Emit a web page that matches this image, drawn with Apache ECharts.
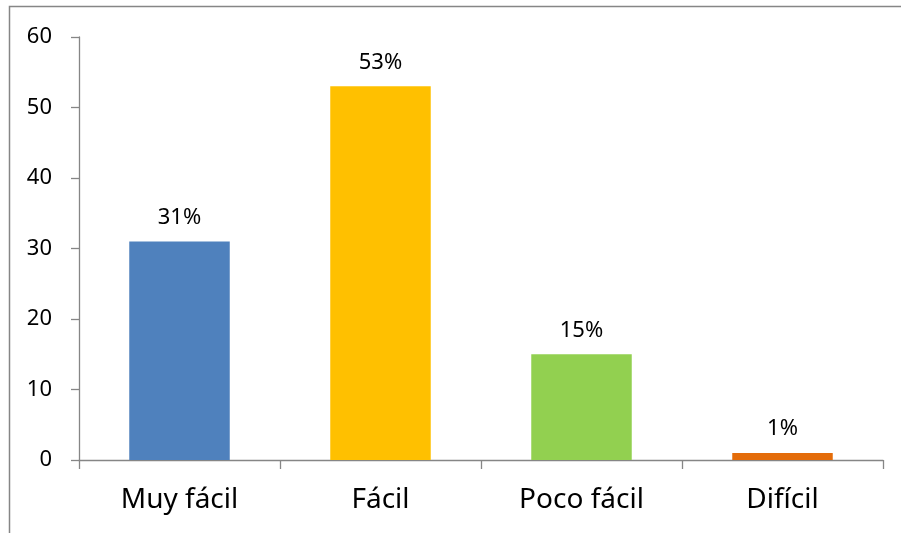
<!DOCTYPE html>
<html>
<head>
<meta charset="utf-8">
<script src="https://cdn.jsdelivr.net/npm/echarts@6/dist/echarts.min.js"></script>
<style>
  html, body { margin: 0; padding: 0; background: #fff; }
  #chart { width: 901px; height: 533px; }
</style>
</head>
<body>
<div id="chart"></div>
<script>
// Survey answers: how easy it was
const categories = ['Muy fácil', 'Fácil', 'Poco fácil', 'Difícil'];
const values = [31, 53, 15, 1];
const valueLabels = ['31%', '53%', '15%', '1%'];
const barColors = ['#4F81BD', '#FFC000', '#92D050', '#E46C0A'];
const yTicks = [0, 10, 20, 30, 40, 50, 60];

const font = '"Noto Sans", "Open Sans", sans-serif';
const axisGray = '#868686';

const chart = echarts.init(document.getElementById('chart'), null, { renderer: 'canvas' });

chart.setOption({
  animation: false,
  backgroundColor: '#fff',
  graphic: [{
    type: 'rect',
    shape: { x: 9.5, y: 6.5, width: 1000, height: 1000 },
    style: { fill: 'none', stroke: axisGray, lineWidth: 1.5 },
    z: 100
  }],
  grid: { left: 79, right: 18, top: 37, bottom: 73, containLabel: false },
  xAxis: {
    type: 'category',
    data: categories,
    axisLine: { show: true, lineStyle: { color: axisGray, width: 1.3 } },
    axisTick: { show: true, alignWithLabel: false, length: 9, lineStyle: { color: axisGray, width: 1.3 } },
    axisLabel: { color: '#000', fontSize: 28, fontFamily: font, margin: 26 },
    splitLine: { show: false }
  },
  yAxis: {
    type: 'value',
    min: yTicks[0],
    max: yTicks[yTicks.length - 1],
    interval: 10,
    axisLine: { show: true, lineStyle: { color: axisGray, width: 1.3 } },
    axisTick: { show: true, length: 8, lineStyle: { color: axisGray, width: 1.3 } },
    axisLabel: { color: '#000', fontSize: 22, fontFamily: font, margin: 27 },
    splitLine: { show: false }
  },
  series: [{
    type: 'bar',
    barWidth: '50%',
    data: values.map((v, i) => ({ value: v, itemStyle: { color: barColors[i] } })),
    label: {
      show: true,
      position: 'top',
      distance: 13,
      color: '#000',
      fontSize: 22,
      fontFamily: font,
      formatter: p => valueLabels[p.dataIndex]
    }
  }]
});
</script>
</body>
</html>
